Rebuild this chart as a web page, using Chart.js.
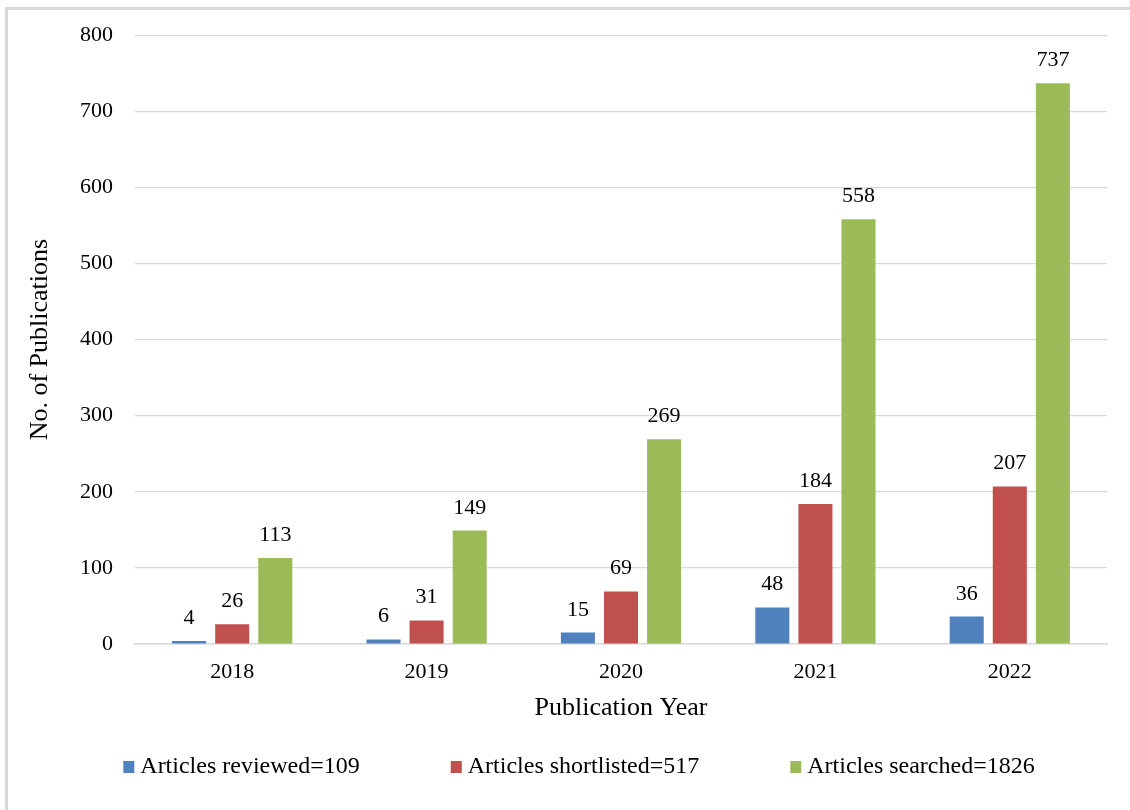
<!DOCTYPE html>
<html>
<head>
<meta charset="utf-8">
<script src="https://cdn.jsdelivr.net/npm/chart.js@4.4.1/dist/chart.umd.min.js"></script>
<style>
  html, body { margin: 0; padding: 0; background: #ffffff; overflow: hidden; }
  #wrap { position: relative; width: 1130px; height: 810px; overflow: hidden; }
  #frame { position: absolute; left: 5px; top: 7px; width: 1300px; height: 1000px; border: 3px solid #d9d9d9; box-sizing: border-box; }
  #c { position: absolute; left: 0; top: 0; }
</style>
</head>
<body>
<div id="wrap">
  <div id="frame"></div>
  <canvas id="c" width="1130" height="810"></canvas>
</div>
<script>
const categories = ["2018", "2019", "2020", "2021", "2022"];
const reviewed = [4, 6, 15, 48, 36];
const shortlisted = [26, 31, 69, 184, 207];
const searched = [113, 149, 269, 558, 737];
const seriesNames = ["Articles reviewed=109", "Articles shortlisted=517", "Articles searched=1826"];
const yTicks = [0, 100, 200, 300, 400, 500, 600, 700, 800];

const FONT = "'Liberation Serif', 'Times New Roman', serif";

const dataLabels = {
  id: 'dataLabels',
  afterDatasetsDraw(chart) {
    const ctx = chart.ctx;
    ctx.save();
    ctx.font = "22px " + FONT;
    ctx.fillStyle = '#000';
    ctx.textAlign = 'center';
    ctx.textBaseline = 'alphabetic';
    chart.data.datasets.forEach((ds, i) => {
      const meta = chart.getDatasetMeta(i);
      meta.data.forEach((bar, j) => {
        ctx.fillText(String(ds.data[j]), bar.x, bar.y - 17);
      });
    });
    ctx.restore();
  }
};

// Bottom legend, drawn from the chart's dataset labels and colours
const bottomLegend = {
  id: 'bottomLegend',
  afterDraw(chart) {
    const ctx = chart.ctx;
    ctx.save();
    ctx.font = "24px " + FONT;
    ctx.textBaseline = 'middle';
    ctx.textAlign = 'left';
    const box = 11, gapText = 6, gapItem = 91;
    const items = chart.data.datasets.map(ds => ({ text: ds.label, color: ds.backgroundColor, w: ctx.measureText(ds.label).width }));
    const total = items.reduce((s, it) => s + box + gapText + it.w, 0) + gapItem * (items.length - 1);
    let x = chart.width / 2 + 14 - total / 2;
    const yc = chart.chartArea.bottom + 123;
    items.forEach(it => {
      ctx.fillStyle = it.color;
      ctx.fillRect(x, yc - 6, box, box + 1);
      ctx.fillStyle = '#000';
      ctx.fillText(it.text, x + box + gapText, yc);
      x += box + gapText + it.w + gapItem;
    });
    ctx.restore();
  }
};

new Chart(document.getElementById('c'), {
  type: 'bar',
  data: {
    labels: categories,
    datasets: [
      { label: seriesNames[0], data: reviewed, backgroundColor: '#4F81BD' },
      { label: seriesNames[1], data: shortlisted, backgroundColor: '#C0504D' },
      { label: seriesNames[2], data: searched, backgroundColor: '#9BBB59' }
    ]
  },
  options: {
    responsive: false,
    animation: false,
    devicePixelRatio: 1,
    layout: { padding: { left: 0, right: 23, top: 32, bottom: 76 } },
    datasets: { bar: { categoryPercentage: 0.665, barPercentage: 0.79 } },
    plugins: {
      tooltip: { enabled: false },
      legend: { display: false }
    },
    scales: {
      x: {
        afterFit(scale) { scale.height = 90; },
        grid: { display: false, drawTicks: false },
        border: { color: '#d9d9d9', width: 1.5 },
        ticks: { font: { family: FONT, size: 22 }, color: '#000', padding: 15 },
        title: { display: true, text: 'Publication Year', font: { family: FONT, size: 26 }, color: '#000', padding: { top: 0, bottom: 10 } }
      },
      y: {
        min: 0, max: 800,
        afterBuildTicks(scale) { scale.ticks = yTicks.map(v => ({ value: v })); },
        afterFit(scale) { scale.width = 135; },
        grid: { color: '#d9d9d9', lineWidth: 1.2, drawTicks: false },
        border: { display: false },
        ticks: { font: { family: FONT, size: 22 }, color: '#000', padding: 22 },
        title: { display: true, text: 'No. of Publications', font: { family: FONT, size: 26 }, color: '#000', padding: { top: 25, bottom: 0 } }
      }
    }
  },
  plugins: [dataLabels, bottomLegend]
});
</script>
</body>
</html>
